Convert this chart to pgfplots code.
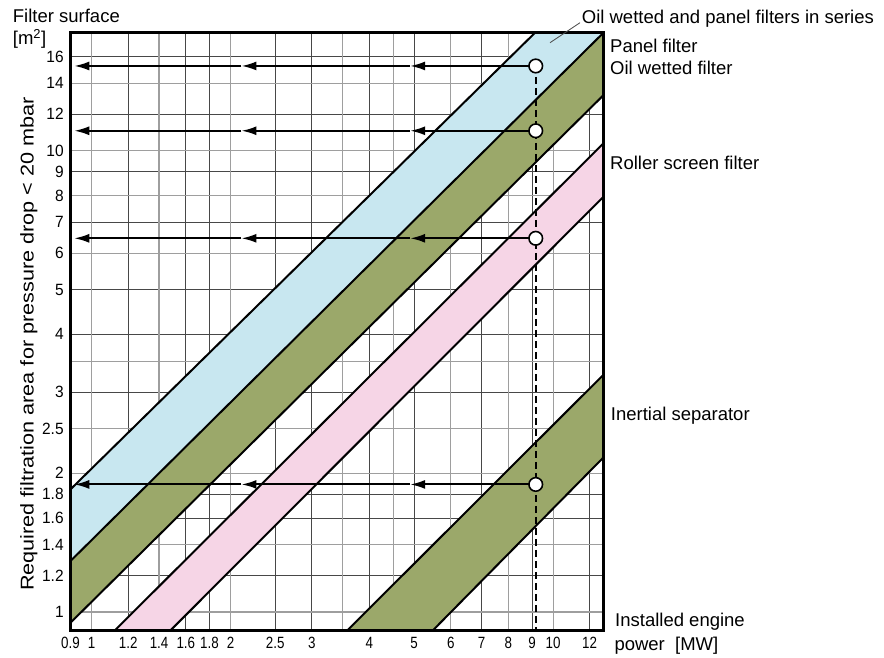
\documentclass[border=0pt]{standalone}
\usepackage{fontspec}
\setmainfont{Liberation Sans}
\usepackage{pgfplots}
\pgfplotsset{compat=1.18}
\usetikzlibrary{arrows.meta}
\definecolor{bandblue}{RGB}{200,231,240}
\definecolor{bandgreen}{RGB}{155,168,106}
\definecolor{bandpink}{RGB}{246,213,230}
\begin{document}
\begin{tikzpicture}
\path (-70.5pt,-26.3pt) rectangle (813.5pt,630.7pt);
\begin{axis}[name=ax, at={(0pt,0pt)}, anchor=south west,
  scale only axis, width=533pt, height=598pt,
  xmode=log, ymode=log,
  xmin=0.9, xmax=12.86, ymin=0.911, ymax=18.03,
  axis line style={line width=2.6pt},
  major tick length=0pt,
  grid=major, grid style={black!72, line width=0.75pt},
  xtick={0.9,1.2,1.6,1.8,2.5,3,4,5,7,9,12},
  xticklabels={0.9,1.2,1.6,1.8,2.5,3,4,5,7,9,12},
  extra x ticks={1,1.4,2,3.5,4.5,6,8,10},
  extra x tick labels={1,1.4,2,{},{},6,8,10},
  extra x tick style={grid=major, grid style={black!38, line width=1.1pt}},
  ytick={1.2,1.6,1.8,3,4,5,7,9,12,16},
  yticklabels={1.2,1.6,1.8,3,4,5,7,9,12,16},
  extra y ticks={1,1.4,2,2.5,3.5,6,8,10,14},
  extra y tick labels={1,1.4,2,2.5,{},6,8,10,14},
  extra y tick style={grid=major, grid style={black!38, line width=1.1pt}},
  xticklabel style={font=\fontsize{16.3}{18}\selectfont, xscale=0.82, anchor=north, inner sep=0pt, yshift=-6pt},
  yticklabel style={font=\fontsize{16.3}{18}\selectfont, xscale=0.95, anchor=east, inner sep=0pt, xshift=-7pt},
  clip mode=individual,
]
% band fills
\addplot[draw=none, fill=bandblue] coordinates {(0.9,1.845) (9.14,18.03) (12.86,18.03) (0.9,1.29)} -- cycle;
\addplot[draw=none, fill=bandgreen] coordinates {(0.9,1.29) (12.86,18.03) (12.86,13.2) (0.9,0.948)} -- cycle;
\addplot[draw=none, fill=bandpink] coordinates {(1.121,0.911) (12.86,10.38) (12.86,7.95) (1.48,0.911)} -- cycle;
\addplot[draw=none, fill=bandgreen] coordinates {(3.577,0.911) (12.86,3.27) (12.86,2.164) (5.48,0.911)} -- cycle;
% band edges
\addplot[black, line width=2pt] coordinates {(0.9,1.845) (9.14,18.03)};
\addplot[black, line width=2pt] coordinates {(0.9,1.29) (12.86,18.03)};
\addplot[black, line width=2pt] coordinates {(0.9,0.948) (12.86,13.2)};
\addplot[black, line width=2pt] coordinates {(1.121,0.911) (12.86,10.38)};
\addplot[black, line width=2pt] coordinates {(1.48,0.911) (12.86,7.95)};
\addplot[black, line width=2pt] coordinates {(3.577,0.911) (12.86,3.27)};
\addplot[black, line width=2pt] coordinates {(5.48,0.911) (12.86,2.164)};
% dashed vertical
\addplot[black, line width=2pt, dash pattern=on 7pt off 4pt] coordinates {(9.17,15.27) (9.17,0.911)};
% arrows
\addplot[black, line width=2pt, -{Latex[length=15pt,width=9pt]}] coordinates {(9.17,15.27) (4.90,15.27)};
\addplot[black, line width=2pt, -{Latex[length=15pt,width=9pt]}] coordinates {(4.90,15.27) (2.112,15.27)};
\addplot[black, line width=2pt, -{Latex[length=15pt,width=9pt]}] coordinates {(2.112,15.27) (0.917,15.27)};
\addplot[black, line width=2pt, -{Latex[length=15pt,width=9pt]}] coordinates {(9.17,11.05) (4.90,11.05)};
\addplot[black, line width=2pt, -{Latex[length=15pt,width=9pt]}] coordinates {(4.90,11.05) (2.112,11.05)};
\addplot[black, line width=2pt, -{Latex[length=15pt,width=9pt]}] coordinates {(2.112,11.05) (0.917,11.05)};
\addplot[black, line width=2pt, -{Latex[length=15pt,width=9pt]}] coordinates {(9.17,6.46) (4.90,6.46)};
\addplot[black, line width=2pt, -{Latex[length=15pt,width=9pt]}] coordinates {(4.90,6.46) (2.112,6.46)};
\addplot[black, line width=2pt, -{Latex[length=15pt,width=9pt]}] coordinates {(2.112,6.46) (0.917,6.46)};
\addplot[black, line width=2pt, -{Latex[length=15pt,width=9pt]}] coordinates {(9.17,1.891) (4.90,1.891)};
\addplot[black, line width=2pt, -{Latex[length=15pt,width=9pt]}] coordinates {(4.90,1.891) (2.112,1.891)};
\addplot[black, line width=2pt, -{Latex[length=15pt,width=9pt]}] coordinates {(2.112,1.891) (0.917,1.891)};
% circles
\addplot[only marks, mark=*, mark size=6.8pt, mark options={fill=white, draw=black, line width=1.6pt}] coordinates {(9.17,15.27) (9.17,11.05) (9.17,6.46) (9.17,1.891)};
\end{axis}
\draw[line width=2.6pt] (ax.south west) rectangle (ax.north east);
\begin{scope}[every node/.style={font=\fontsize{18.5}{22}\selectfont, inner sep=0pt}]
\node[anchor=base west] at (-57.8pt,608pt) {Filter surface};
\node[anchor=base west] at (-57.8pt,586pt) {[m\textsuperscript{2}]};
\node[rotate=90, xscale=1.17, anchor=base] at (-37pt,286.7pt) {Required filtration area for pressure drop < 20 mbar};
\node[anchor=base west] at (511.2pt,607.4pt) {Oil wetted and panel filters in series};
\node[anchor=base west] at (539.5pt,578pt) {Panel filter};
\node[anchor=base west] at (539.5pt,555.7pt) {Oil wetted filter};
\node[anchor=base west] at (539.5pt,461.4pt) {Roller screen filter};
\node[anchor=base west] at (540.2pt,210.7pt) {Inertial separator};
\node[anchor=base west] at (544.5pt,4pt) {Installed engine};
\node[anchor=base west] at (543.8pt,-19.3pt) {power\ \ [MW]};
\end{scope}
\draw[black!70, line width=0.8pt] (509.5pt,608pt) -- (479.5pt,588pt);
\end{tikzpicture}
\end{document}
